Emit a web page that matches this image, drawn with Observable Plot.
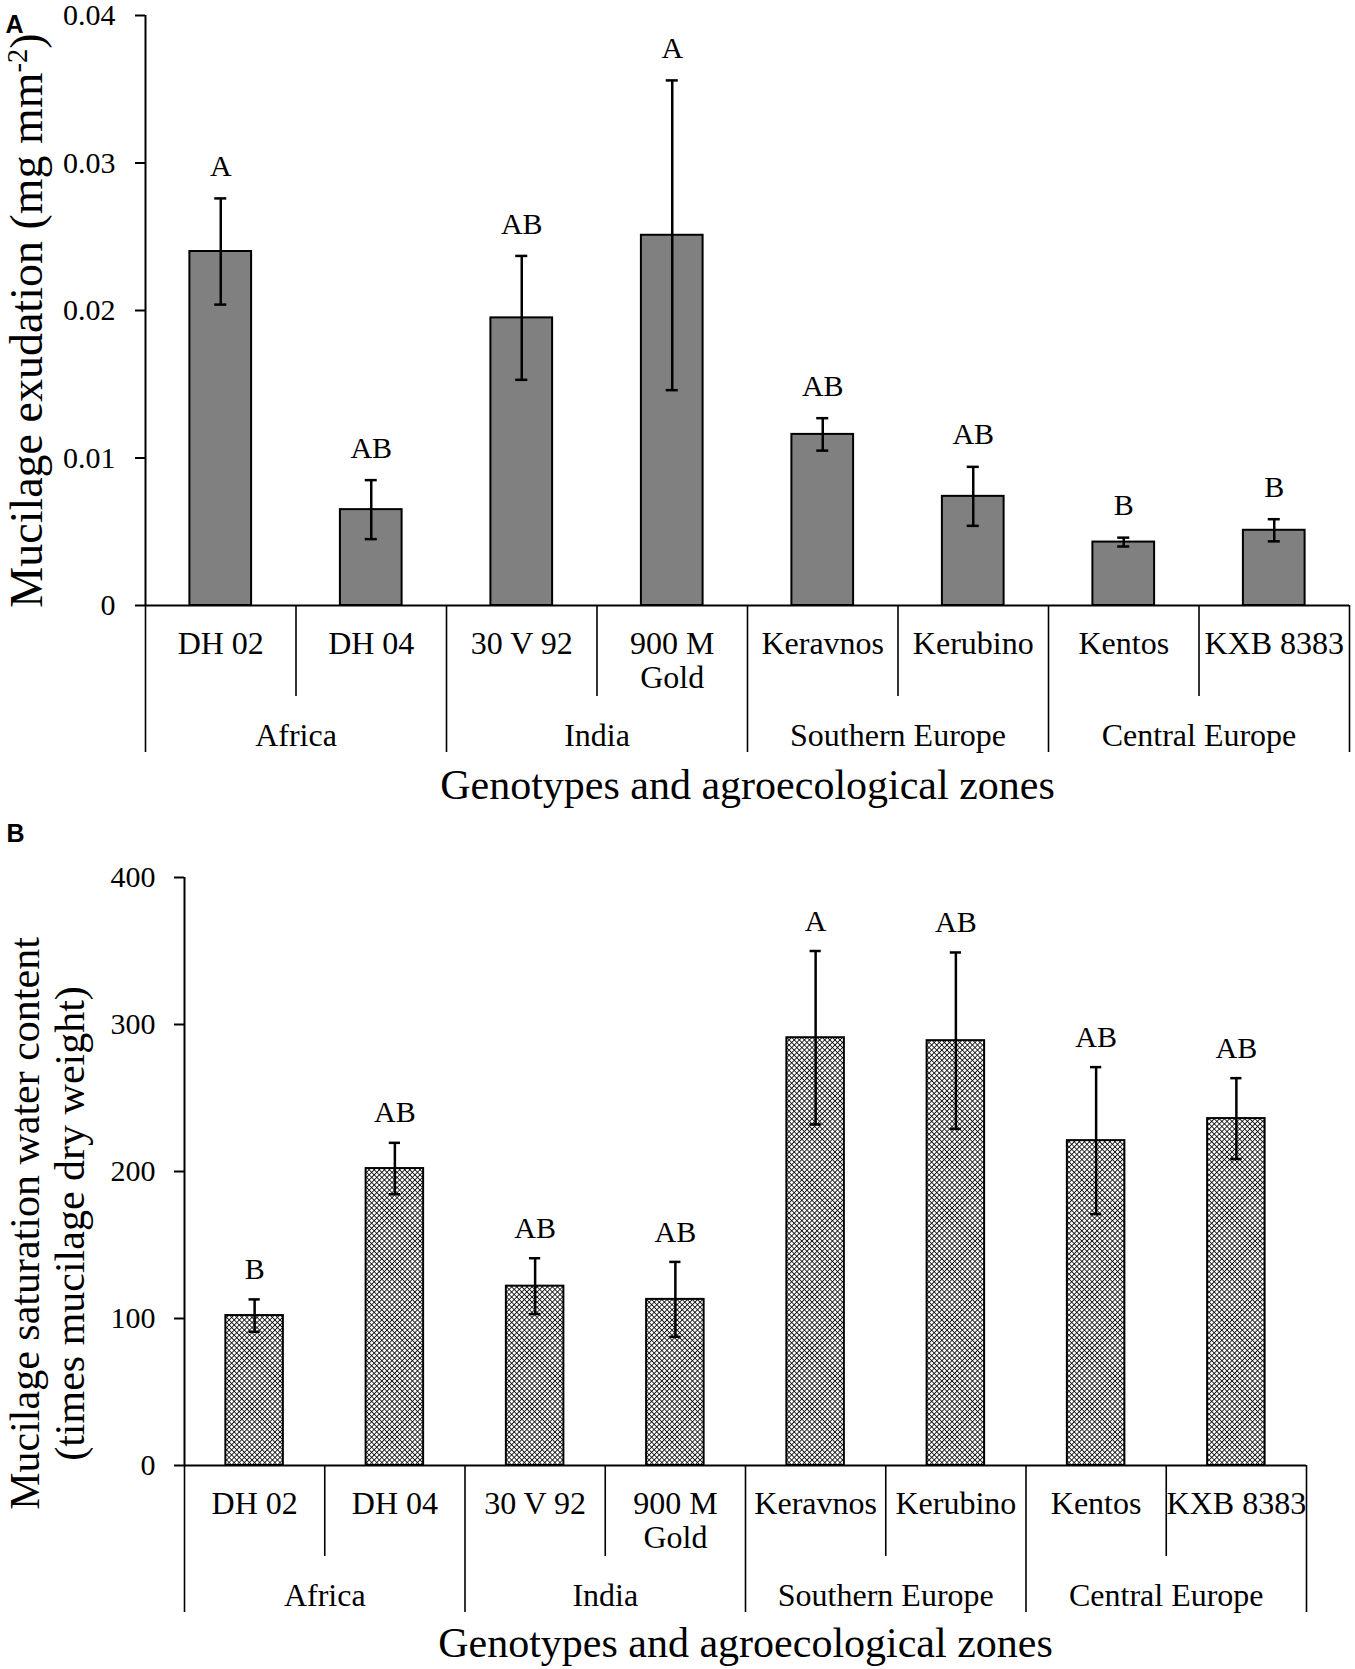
<!DOCTYPE html>
<html>
<head>
<meta charset="utf-8">
<script src="https://cdn.jsdelivr.net/npm/d3@7"></script>
<script src="https://cdn.jsdelivr.net/npm/@observablehq/plot@0.6"></script>
<style>
  body { margin: 0; background: #fff; }
  #wrap { position: relative; width: 1355px; height: 1669px; overflow: hidden; background: #fff; }
  .panel { position: absolute; left: 0; }
</style>
</head>
<body>
<div id="wrap">
  <div id="pa" class="panel" style="top:0px"></div>
  <div id="pb" class="panel" style="top:800px"></div>
</div>
<script>
// ---------------- data ----------------
const genotypes = ["DH 02", "DH 04", "30 V 92", "900 M\nGold", "Keravnos", "Kerubino", "Kentos", "KXB 8383"];
const genotypeZone = ["Africa", "Africa", "India", "India", "Southern Europe", "Southern Europe", "Central Europe", "Central Europe"];

// Panel A: mucilage exudation (mg mm-2), mean and error
const exudation      = [0.0240, 0.0065, 0.0195, 0.0251, 0.0116, 0.0074, 0.0043, 0.0051];
const exudationErr   = [0.0036, 0.0020, 0.0042, 0.0105, 0.0011, 0.0020, 0.0003, 0.00075];
const exudationLetters = ["A", "AB", "AB", "A", "AB", "AB", "B", "B"];
const yTicksA = [0, 0.01, 0.02, 0.03, 0.04];
const yTickLabelsA = ["0", "0.01", "0.02", "0.03", "0.04"];

// Panel B: mucilage saturation water content (times mucilage dry weight)
const waterContent    = [102, 202, 122, 113, 291, 289, 221, 236];
const waterContentErr = [11, 17.5, 19, 25.5, 59, 60, 50, 27.5];
const waterLetters = ["B", "AB", "AB", "AB", "A", "AB", "AB", "AB"];
const yTicksB = [0, 100, 200, 300, 400];
const yTickLabelsB = ["0", "100", "200", "300", "400"];

const xTitle = "Genotypes and agroecological zones";
const yTitleA = "Mucilage exudation (mg mm-2)";
const yTitleAParts = ["Mucilage exudation (mg mm", "-2", ")"];   // base, superscript, tail
const yTitleB = "Mucilage saturation water content\n(times mucilage dry weight)";

// ---------------- helpers ----------------
const n = genotypes.length;
const innerSeps = [], groupSeps = [0];
for (let i = 1; i < n; ++i) (genotypeZone[i] === genotypeZone[i - 1] ? innerSeps : groupSeps).push(i);
groupSeps.push(n);
const zones = [];
for (let k = 0; k < groupSeps.length - 1; ++k) {
  zones.push({name: genotypeZone[groupSeps[k]], c: (groupSeps[k] + groupSeps[k + 1]) / 2});
}

const SERIF = "'Liberation Serif', 'Times New Roman', Times, serif";
const SANS = "'Liberation Sans', Arial, Helvetica, sans-serif";

function panel(o) {
  const rows = genotypes.map((g, i) => ({g, c: i + 0.5, v: o.values[i], e: o.errs[i], L: o.letters[i]}));
  const half = 0.205, cap = 0.04;
  const svg = Plot.plot({
    width: 1355,
    height: o.height,
    marginTop: o.marginTop,
    marginBottom: o.marginBottom,
    marginLeft: o.marginLeft,
    marginRight: o.marginRight,
    style: {fontFamily: SERIF, color: "#000", background: "transparent", overflow: "visible"},
    x: {domain: [0, n]},
    y: {domain: [o.yTicks[0], o.yTicks[o.yTicks.length - 1]]},
    marks: [
      Plot.rect(rows, {x1: d => d.c - half, x2: d => d.c + half, y1: 0, y2: "v", fill: o.fill, stroke: "#000", strokeWidth: 2}),
      Plot.ruleX(rows, {x: "c", y1: d => d.v - d.e, y2: d => d.v + d.e, stroke: "#000", strokeWidth: 2.5}),
      Plot.ruleY(rows, {y: d => d.v + d.e, x1: d => d.c - cap, x2: d => d.c + cap, stroke: "#000", strokeWidth: 2.5}),
      Plot.ruleY(rows, {y: d => d.v - d.e, x1: d => d.c - cap, x2: d => d.c + cap, stroke: "#000", strokeWidth: 2.5}),
      Plot.text(rows, {x: "c", y: d => d.v + d.e, text: "L", dy: o.letterDy, fontSize: 30, lineAnchor: "middle", fill: "#000"}),
      Plot.ruleY([0], {stroke: "#000", strokeWidth: 2}),
      Plot.ruleX([0], {y1: o.yTicks[0], y2: o.yTicks[o.yTicks.length - 1], stroke: "#000", strokeWidth: 2}),
      Plot.axisY({ticks: o.yTicks, tickFormat: d => o.yLabels[o.yTicks.indexOf(d)], tickSize: 10, tickPadding: o.tickPadding, fontSize: 30, label: null, strokeWidth: 2}),
      Plot.axisX({ticks: innerSeps, tickSize: 91, tickFormat: () => "", label: null, strokeWidth: 1.6}),
      Plot.axisX({ticks: groupSeps, tickSize: 147, tickFormat: () => "", label: null, strokeWidth: 1.6}),
      Plot.text(rows, {x: "c", text: "g", frameAnchor: "bottom", dy: 24.5, lineAnchor: "top", lineHeight: 1.06, fontSize: 32, fill: "#000"}),
      Plot.text(zones, {x: "c", text: "name", frameAnchor: "bottom", dy: 130, lineAnchor: "middle", fontSize: 32, fill: "#000"}),
      Plot.text([xTitle], {text: d => d, frameAnchor: "bottom", dy: o.xTitleDy, lineAnchor: "middle", fontSize: 42, fill: "#000"}),
      Plot.text([o.yTitle], {text: d => d, frameAnchor: "left", textAnchor: "middle", rotate: -90, dx: o.titleDx, dy: o.titleDy, lineAnchor: "middle", lineHeight: 1.07, fontSize: o.titleSize, fill: "#000"}),
      Plot.text([o.panelLabel], {text: d => d, frameAnchor: "top-left", dx: o.pDx, dy: o.pDy, lineAnchor: "middle", textAnchor: "middle", fontFamily: SANS, fontWeight: "bold", fontSize: 25, fill: "#000"})
    ]
  });
  return svg;
}

const svgA = panel({
  values: exudation, errs: exudationErr, letters: exudationLetters,
  yTicks: yTicksA, yLabels: yTickLabelsA,
  height: 800, marginTop: 15, marginBottom: 195, marginLeft: 145, marginRight: 6,
  fill: "#808080", letterDy: -32, tickPadding: 20, xTitleDy: 180,
  yTitle: yTitleA, titleDx: -119, titleDy: 10, titleSize: 46,
  panelLabel: "A", pDx: -131, pDy: 9
});
// turn the "-2" of the unit into a real superscript
const ns = "http://www.w3.org/2000/svg";
svgA.querySelectorAll("text").forEach(t => {
  if (t.textContent === yTitleA) {
    t.textContent = yTitleAParts[0];
    const sup = document.createElementNS(ns, "tspan");
    sup.setAttribute("font-size", "0.62em");
    sup.setAttribute("dy", "-0.55em");
    sup.textContent = yTitleAParts[1];
    const tail = document.createElementNS(ns, "tspan");
    tail.setAttribute("dy", "0.341em");
    tail.textContent = yTitleAParts[2];
    t.appendChild(sup);
    t.appendChild(tail);
  }
});
document.getElementById("pa").appendChild(svgA);

const svgB = panel({
  values: waterContent, errs: waterContentErr, letters: waterLetters,
  yTicks: yTicksB, yLabels: yTickLabelsB,
  height: 869, marginTop: 77, marginBottom: 204, marginLeft: 184, marginRight: 49,
  fill: "url(#xhatch)", letterDy: -30, tickPadding: 19, xTitleDy: 178,
  yTitle: yTitleB, titleDx: -137, titleDy: 52, titleSize: 42,
  panelLabel: "B", pDx: -169, pDy: -44
});
// cross-hatch pattern for panel B bars
const defs = document.createElementNS(ns, "defs");
defs.innerHTML =
  '<pattern id="xhatch" patternUnits="userSpaceOnUse" width="3.6" height="3.6" patternTransform="rotate(45)">' +
  '<rect width="3.6" height="3.6" fill="#ffffff"></rect>' +
  '<rect width="3.6" height="0.8" fill="#000000"></rect>' +
  '<rect width="0.8" height="3.6" fill="#000000"></rect>' +
  '</pattern>';
svgB.insertBefore(defs, svgB.firstChild);
document.getElementById("pb").appendChild(svgB);
</script>
</body>
</html>
